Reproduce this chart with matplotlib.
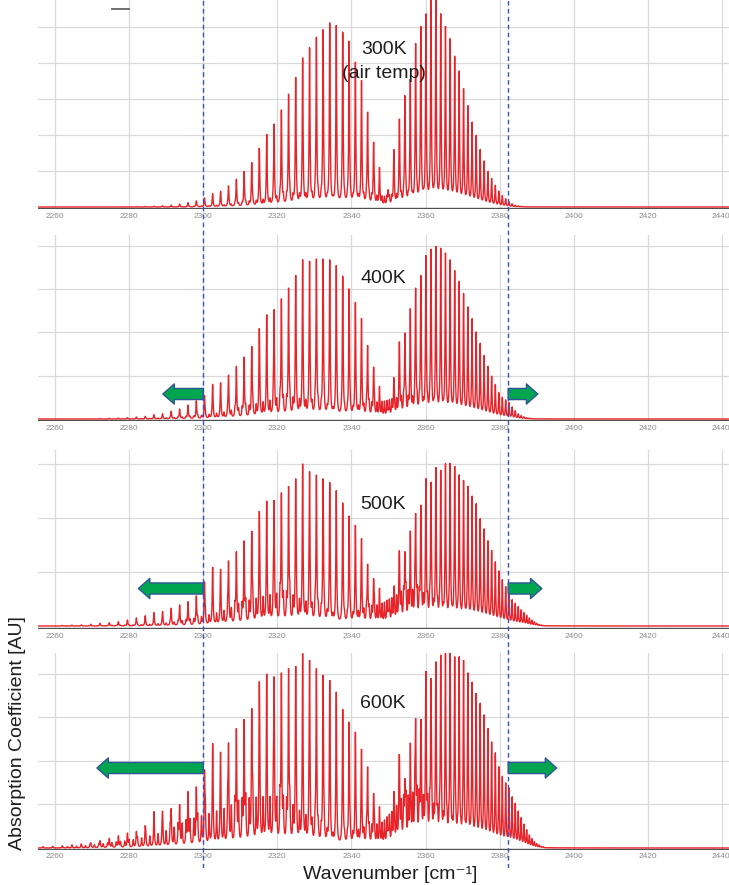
import numpy as np
import matplotlib
matplotlib.use("Agg")
import matplotlib.pyplot as plt
from matplotlib.lines import Line2D
from matplotlib.patches import ArrowStyle
from matplotlib.transforms import ScaledTranslation

plt.rcParams['font.family'] = ['Liberation Sans', 'DejaVu Sans']
plt.rcParams['path.simplify'] = False

# ---------------------------------------------------------------- data
# CO2 nu3 fundamental: P(2..88) and R(0..80) line positions [cm^-1]
main_p_pos = [2347.57, 2345.98, 2344.36, 2342.72, 2341.06, 2339.37, 2337.65, 2335.91,
              2334.14, 2332.35, 2330.54, 2328.70, 2326.83, 2324.95, 2323.03, 2321.09,
              2319.13, 2317.14, 2315.13, 2313.09, 2311.03, 2308.94, 2306.82, 2304.69,
              2302.53, 2300.34, 2298.13, 2295.89, 2293.63, 2291.34, 2289.03, 2286.70,
              2284.33, 2281.95, 2279.54, 2277.10, 2274.64, 2272.16, 2269.65, 2267.12,
              2264.56, 2261.97, 2259.36, 2256.73]
main_r_pos = [2349.91, 2351.44, 2352.95, 2354.43, 2355.88, 2357.32, 2358.72, 2360.10,
              2361.46, 2362.79, 2364.10, 2365.38, 2366.64, 2367.87, 2369.07, 2370.26,
              2371.42, 2372.55, 2373.66, 2374.74, 2375.80, 2376.83, 2377.84, 2378.83,
              2379.79, 2380.72, 2381.63, 2382.51, 2383.37, 2384.21, 2385.02, 2385.81,
              2386.57, 2387.30, 2388.01, 2388.70, 2389.36, 2390.00, 2390.61, 2391.20,
              2391.76]
# first hot band (01^1 1 <- 01^1 0): P(1..73) and R(1..77) line positions [cm^-1]
hot_p_pos = [2335.82, 2335.03, 2334.24, 2333.44, 2332.64, 2331.83, 2331.01, 2330.19,
             2329.36, 2328.52, 2327.68, 2326.83, 2325.98, 2325.11, 2324.25, 2323.37,
             2322.50, 2321.61, 2320.72, 2319.82, 2318.92, 2318.01, 2317.09, 2316.17,
             2315.24, 2314.30, 2313.36, 2312.41, 2311.46, 2310.50, 2309.53, 2308.56,
             2307.58, 2306.60, 2305.61, 2304.61, 2303.61, 2302.60, 2301.58, 2300.56,
             2299.53, 2298.50, 2297.46, 2296.41, 2295.36, 2294.30, 2293.23, 2292.16,
             2291.08, 2290.00, 2288.91, 2287.81, 2286.71, 2285.60, 2284.49, 2283.37,
             2282.24, 2281.11, 2279.97, 2278.82, 2277.67, 2276.51, 2275.35, 2274.17,
             2273.00, 2271.81, 2270.62, 2269.43, 2268.23, 2267.02, 2265.81, 2264.59,
             2263.36]
hot_r_pos = [2338.14, 2338.90, 2339.66, 2340.41, 2341.15, 2341.89, 2342.62, 2343.34,
             2344.06, 2344.77, 2345.48, 2346.18, 2346.87, 2347.56, 2348.24, 2348.91,
             2349.58, 2350.24, 2350.90, 2351.55, 2352.19, 2352.83, 2353.46, 2354.09,
             2354.71, 2355.32, 2355.93, 2356.53, 2357.12, 2357.71, 2358.29, 2358.87,
             2359.43, 2360.00, 2360.55, 2361.11, 2361.65, 2362.19, 2362.72, 2363.25,
             2363.77, 2364.28, 2364.79, 2365.29, 2365.78, 2366.27, 2366.75, 2367.23,
             2367.70, 2368.16, 2368.62, 2369.07, 2369.52, 2369.96, 2370.39, 2370.82,
             2371.24, 2371.65, 2372.06, 2372.46, 2372.86, 2373.25, 2373.63, 2374.01,
             2374.38, 2374.74, 2375.10, 2375.45, 2375.80, 2376.14, 2376.47, 2376.80,
             2377.12, 2377.44, 2377.75, 2378.05, 2378.35]

temperatures = ['300K\n(air temp)', '400K', '500K', '600K']

# observed peak heights of the fundamental lines [AU] per temperature
main_p_300 = [1.11, 1.81, 2.64, 3.52, 4.03, 4.61, 4.86, 5.05, 5.12, 4.93, 4.72, 4.43, 4.14,
              3.61, 3.14, 2.70, 2.31, 2.02, 1.64, 1.24, 0.99, 0.77, 0.59, 0.44, 0.37, 0.25,
              0.17, 0.12, 0.08, 0.05, 0.035, 0.02, 0.015, 0.01,
              0, 0, 0, 0, 0, 0, 0, 0, 0, 0]
main_r_300 = [0.48, 1.60, 2.45, 3.10, 3.55, 4.55, 5.02, 5.37, 5.85, 5.90, 5.37, 5.02, 4.68,
              4.19, 3.78, 3.29, 2.82, 2.36, 1.99, 1.60, 1.28, 0.99, 0.79, 0.60, 0.44, 0.32,
              0.23, 0.15, 0.09, 0.05, 0.03, 0.02, 0.01,
              0, 0, 0, 0, 0, 0, 0, 0]
# hot band line strengths [AU]
hot_p_300 = [0.06, 0.08, 0.10, 0.12, 0.13, 0.15, 0.16, 0.17, 0.18, 0.19,
             0.20, 0.21, 0.21, 0.21, 0.21, 0.21, 0.20, 0.20, 0.19, 0.18,
             0.17, 0.16, 0.15, 0.14, 0.13, 0.12, 0.11, 0.10, 0.09, 0.08,
             0.07, 0.06, 0.05, 0.045, 0.04, 0.035, 0.03, 0.025, 0.02, 0.02,
             0.02, 0.015, 0.01, 0.005, 0, 0, 0, 0, 0, 0,
             0, 0, 0, 0, 0, 0, 0, 0, 0, 0,
             0, 0, 0, 0, 0, 0, 0, 0, 0, 0,
             0, 0, 0]
hot_r_300 = [0.06, 0.08, 0.10, 0.12, 0.13, 0.15, 0.16, 0.18, 0.19, 0.20,
             0.21, 0.22, 0.22, 0.23, 0.23, 0.23, 0.23, 0.23, 0.22, 0.22,
             0.21, 0.20, 0.19, 0.18, 0.17, 0.16, 0.15, 0.14, 0.13, 0.12,
             0.11, 0.10, 0.09, 0.08, 0.07, 0.06, 0.05, 0.045, 0.04, 0.035,
             0.03, 0.025, 0.02, 0.02, 0.02, 0.015, 0.01, 0.005, 0, 0,
             0, 0, 0, 0, 0, 0, 0, 0, 0, 0,
             0, 0, 0, 0, 0, 0, 0, 0, 0, 0,
             0, 0, 0, 0, 0, 0, 0]

main_p_400 = [0.75, 1.20, 1.70, 2.33, 2.70, 3.01, 3.30, 3.55, 3.68, 3.70, 3.70, 3.65, 3.68,
              3.32, 3.03, 2.78, 2.53, 2.41, 2.09, 1.68, 1.43, 1.22, 1.02, 0.84, 0.80, 0.55,
              0.42, 0.32, 0.23, 0.18, 0.12, 0.10, 0.06, 0.045, 0.03, 0.02, 0.015, 0.01,
              0, 0, 0, 0, 0, 0]
main_r_400 = [0.22, 0.94, 1.78, 1.99, 2.55, 3.03, 3.32, 3.78, 3.93, 3.99, 3.95, 3.84, 3.68,
              3.43, 3.18, 2.90, 2.59, 2.32, 2.01, 1.75, 1.47, 1.22, 0.99, 0.80, 0.61, 0.50,
              0.44, 0.38, 0.28, 0.19, 0.12, 0.08, 0.05, 0.03, 0.02, 0.01,
              0, 0, 0, 0, 0]
hot_p_400 = [0.08, 0.10, 0.12, 0.14, 0.16, 0.18, 0.20, 0.22, 0.24, 0.26,
             0.28, 0.30, 0.31, 0.32, 0.33, 0.34, 0.34, 0.34, 0.34, 0.34,
             0.33, 0.32, 0.31, 0.30, 0.28, 0.26, 0.25, 0.23, 0.21, 0.20,
             0.18, 0.16, 0.15, 0.13, 0.12, 0.11, 0.10, 0.09, 0.08, 0.07,
             0.06, 0.055, 0.05, 0.045, 0.04, 0.035, 0.03, 0.025, 0.02, 0.02,
             0.02, 0.015, 0.01, 0.01, 0.01, 0.005, 0, 0, 0, 0,
             0, 0, 0, 0, 0, 0, 0, 0, 0, 0,
             0, 0, 0]
hot_r_400 = [0.08, 0.09, 0.11, 0.13, 0.15, 0.17, 0.19, 0.21, 0.23, 0.25,
             0.27, 0.29, 0.31, 0.33, 0.34, 0.35, 0.36, 0.37, 0.37, 0.37,
             0.37, 0.37, 0.36, 0.35, 0.34, 0.33, 0.31, 0.30, 0.28, 0.26,
             0.24, 0.22, 0.20, 0.18, 0.17, 0.15, 0.14, 0.12, 0.11, 0.10,
             0.09, 0.08, 0.07, 0.06, 0.05, 0.045, 0.04, 0.035, 0.03, 0.025,
             0.02, 0.02, 0.02, 0.015, 0.01, 0.005, 0, 0, 0, 0,
             0, 0, 0, 0, 0, 0, 0, 0, 0, 0,
             0, 0, 0, 0, 0, 0, 0]

main_p_500 = [0.70, 0.88, 1.15, 1.62, 1.87, 2.04, 2.28, 2.51, 2.66, 2.73, 2.80, 2.86, 3.00,
              2.73, 2.59, 2.47, 2.33, 2.31, 2.12, 1.76, 1.58, 1.38, 1.21, 1.05, 1.09, 0.82,
              0.56, 0.45, 0.39, 0.33, 0.27, 0.25, 0.19, 0.15, 0.11, 0.08, 0.06, 0.05, 0.03,
              0.02, 0.015, 0.01, 0, 0]
main_r_500 = [0.30, 0.67, 1.38, 1.38, 1.75, 2.09, 2.24, 2.73, 2.67, 2.94, 2.89, 3.01, 3.02,
              2.96, 2.80, 2.70, 2.59, 2.41, 2.27, 1.99, 1.80, 1.58, 1.40, 1.19, 1.02, 0.86,
              0.73, 0.62, 0.49, 0.42, 0.36, 0.30, 0.25, 0.20, 0.15, 0.11, 0.08, 0.05, 0.03,
              0.02, 0.01]
hot_p_500 = [0.10, 0.12, 0.14, 0.16, 0.18, 0.20, 0.22, 0.25, 0.27, 0.30,
             0.32, 0.35, 0.37, 0.40, 0.42, 0.44, 0.45, 0.46, 0.47, 0.47,
             0.47, 0.47, 0.46, 0.45, 0.43, 0.42, 0.40, 0.38, 0.36, 0.34,
             0.32, 0.30, 0.28, 0.26, 0.24, 0.22, 0.20, 0.18, 0.17, 0.15,
             0.14, 0.12, 0.11, 0.10, 0.09, 0.08, 0.07, 0.06, 0.05, 0.045,
             0.04, 0.035, 0.03, 0.025, 0.02, 0.02, 0.02, 0.015, 0.01, 0.01,
             0.01, 0.01, 0.01, 0.005, 0, 0, 0, 0, 0, 0,
             0, 0, 0]
hot_r_500 = [0.10, 0.11, 0.13, 0.14, 0.16, 0.18, 0.20, 0.22, 0.24, 0.26,
             0.28, 0.30, 0.32, 0.34, 0.36, 0.38, 0.40, 0.42, 0.44, 0.45,
             0.47, 0.48, 0.49, 0.50, 0.50, 0.50, 0.50, 0.49, 0.48, 0.46,
             0.44, 0.41, 0.38, 0.35, 0.32, 0.29, 0.26, 0.24, 0.22, 0.20,
             0.18, 0.16, 0.14, 0.12, 0.11, 0.10, 0.09, 0.08, 0.07, 0.06,
             0.055, 0.05, 0.045, 0.04, 0.035, 0.03, 0.025, 0.02, 0.02, 0.015,
             0.015, 0.01, 0.01, 0.01, 0.008, 0.006, 0.005, 0.004, 0.003, 0.002,
             0, 0, 0, 0, 0, 0, 0]

main_p_600 = [0.95, 1.26, 1.87, 2.27, 2.67, 2.90, 3.19, 3.59, 3.86, 3.98, 4.13, 4.32, 4.47,
              4.18, 4.13, 4.03, 3.94, 3.98, 3.80, 3.21, 2.96, 2.75, 2.42, 2.17, 2.38, 1.80,
              1.41, 1.30, 1.00, 0.91, 0.84, 0.84, 0.51, 0.38, 0.34, 0.28, 0.22, 0.17, 0.12,
              0.09, 0.07, 0.05, 0.04, 0.03]
main_r_600 = [0.45, 1.20, 2.12, 1.60, 2.37, 2.98, 2.95, 4.05, 3.90, 4.28, 4.44, 4.48, 4.48,
              4.40, 4.40, 4.32, 4.03, 3.82, 3.56, 3.33, 3.06, 2.75, 2.44, 2.19, 1.87, 1.65,
              1.50, 1.38, 1.18, 1.03, 0.85, 0.70, 0.55, 0.42, 0.30, 0.22, 0.15, 0.10, 0.07,
              0.04, 0.03]
hot_p_600 = [0.15, 0.17, 0.20, 0.24, 0.28, 0.31, 0.35, 0.40, 0.45, 0.50,
             0.55, 0.60, 0.65, 0.70, 0.75, 0.80, 0.85, 0.88, 0.92, 0.95,
             0.98, 0.99, 1.00, 1.00, 1.00, 0.99, 0.98, 0.96, 0.95, 0.92,
             0.90, 0.87, 0.85, 0.82, 0.80, 0.77, 0.75, 0.72, 0.70, 0.67,
             0.65, 0.62, 0.60, 0.57, 0.55, 0.51, 0.47, 0.43, 0.40, 0.36,
             0.33, 0.30, 0.27, 0.25, 0.23, 0.21, 0.19, 0.17, 0.16, 0.14,
             0.13, 0.12, 0.11, 0.10, 0.09, 0.08, 0.07, 0.06, 0.05, 0.045,
             0.04, 0.035, 0.03]
hot_r_600 = [0.15, 0.17, 0.20, 0.22, 0.25, 0.27, 0.30, 0.32, 0.35, 0.37,
             0.40, 0.42, 0.45, 0.47, 0.50, 0.55, 0.60, 0.65, 0.70, 0.75,
             0.80, 0.85, 0.90, 0.92, 0.95, 0.97, 1.00, 1.00, 1.00, 0.99,
             0.94, 0.90, 0.86, 0.81, 0.76, 0.70, 0.65, 0.60, 0.55, 0.50,
             0.46, 0.42, 0.38, 0.35, 0.32, 0.29, 0.26, 0.24, 0.22, 0.20,
             0.18, 0.16, 0.15, 0.14, 0.13, 0.12, 0.11, 0.10, 0.09, 0.08,
             0.07, 0.065, 0.06, 0.055, 0.05, 0.045, 0.04, 0.035, 0.03, 0.028,
             0.025, 0.02, 0.018, 0.015, 0.012, 0.01, 0.01]

x_ticks = [2260, 2280, 2300, 2320, 2340, 2360, 2380, 2400, 2420, 2440]
band_edges = [2300.0, 2382.3]
# how far the band wings reach beyond the 300K edges, per temperature
wing_left = [None, 2289.1, 2282.5, 2271.3]
wing_right = [None, 2390.3, 2391.4, 2395.4]

panels = [
    (main_p_300, main_r_300, hot_p_300, hot_r_300),
    (main_p_400, main_r_400, hot_p_400, hot_r_400),
    (main_p_500, main_r_500, hot_p_500, hot_r_500),
    (main_p_600, main_r_600, hot_p_600, hot_r_600),
]

# ---------------------------------------------------------------- layout
W, H = 729, 885
fig = plt.figure(figsize=(W / 100, H / 100), dpi=100)
fig.patch.set_facecolor('white')

X_LEFT, X_RIGHT = 38, 729
XLIM = (2255.4, 2441.9)
# (image y of baseline, px per grid step, image y of panel top)
geometry = [(207, 36.0, 0), (419, 43.3, 235), (626, 54.0, 450), (848, 43.5, 653)]
tick_pad = [2.8, 2.8, 2.8, 1.8]
label_pos = [(384, 54), (383, 283), (383, 509), (383, 708)]
arrow_y_px = [None, 394, 588.5, 768]

RED = '#e8232a'
GRID = '#d9d9d9'
GAMMA = 0.13  # Lorentzian half width [cm^-1]


def px_axes(left, top, right, bottom):
    return fig.add_axes([left / W, 1 - bottom / H, (right - left) / W, (bottom - top) / H])


def lorentz_sum(x, centers, heights):
    x = np.asarray(x, float)
    c = np.asarray(centers, float)[:, None]
    h = np.asarray(heights, float)[:, None]
    return (h * GAMMA ** 2 / ((x[None, :] - c) ** 2 + GAMMA ** 2)).sum(axis=0)


def fundamental_strengths(peaks, hot_bg):
    """Line strengths whose summed profile peaks at the observed heights."""
    pos = np.concatenate([main_p_pos, main_r_pos])
    obs = np.asarray(peaks, float)
    s = obs.copy()
    for _ in range(10):
        others = lorentz_sum(pos, pos, s) - s
        s = np.maximum(obs - hot_bg(pos) - others, 0.35 * obs)
    return pos, s


all_centers = np.concatenate([main_p_pos, main_r_pos, hot_p_pos, hot_r_pos])
grid_x = np.union1d(np.arange(XLIM[0], XLIM[1], 0.01), all_centers)

arrow_style = ArrowStyle('simple', head_length=0.82, head_width=1.45, tail_width=0.8)

for i, (mp, mr, hp, hr) in enumerate(panels):
    base, step, top = geometry[i]
    y_bot = -0.05
    ax = px_axes(X_LEFT, top, X_RIGHT, base - y_bot * step)
    ytop = (base - top) / step
    ax.set_xlim(*XLIM)
    ax.set_ylim(y_bot, ytop)

    def hot_bg(x, hp=hp, hr=hr):
        return lorentz_sum(x, hot_p_pos, hp) + lorentz_sum(x, hot_r_pos, hr)

    pos, strength = fundamental_strengths(list(mp) + list(mr), hot_bg)
    y = lorentz_sum(grid_x, pos, strength) + hot_bg(grid_x)

    for xt in x_ticks:
        ax.axvline(xt, color=GRID, lw=0.9, zorder=0)
    for k in range(1, int(np.floor(ytop)) + 1):
        ax.axhline(k, color=GRID, lw=0.9, zorder=0)
    ax.axhline(-0.03, color='#505050', lw=1.0, zorder=1)
    ax.plot(grid_x, y, color=RED, lw=1.0, zorder=2, solid_joinstyle='miter')

    for s in ax.spines.values():
        s.set_visible(False)
    ax.set_yticks([])
    ax.set_xticks(x_ticks)
    ax.set_xticklabels([str(t) for t in x_ticks])
    ax.tick_params(axis='x', length=0, pad=tick_pad[i], labelsize=6, labelcolor='#8c8c8c')
    last = ax.get_xticklabels()[-1]
    last.set_horizontalalignment('right')
    last.set_transform(last.get_transform() + ScaledTranslation(0.08, 0, fig.dpi_scale_trans))
    ax.set_facecolor('none')

    if wing_left[i] is not None:
        ay = (base - arrow_y_px[i]) / step
        for start, tip in ((band_edges[0], wing_left[i]), (band_edges[1], wing_right[i])):
            ax.annotate('', xy=(tip, ay), xytext=(start, ay), xycoords='data',
                        annotation_clip=False,
                        arrowprops=dict(arrowstyle=arrow_style, mutation_scale=10,
                                        fc='#00a54f', ec='#2f5597', lw=1.0,
                                        shrinkA=0, shrinkB=0),
                        zorder=5)

    lx, ly = label_pos[i]
    txt = temperatures[i].split('\n')
    fig.text(lx / W, 1 - ly / H, txt[0], ha='center', va='baseline',
             fontsize=14, color='#1e1e1e')
    if len(txt) > 1:
        fig.text(lx / W, 1 - (ly + 23.5) / H, txt[1], ha='center', va='baseline',
                 fontsize=14, color='#1e1e1e')

# band-edge markers running through all panels
ov = px_axes(X_LEFT, 0, X_RIGHT, 868)
ov.set_xlim(*XLIM)
ov.set_ylim(0, 1)
ov.axis('off')
for xe in band_edges:
    ov.axvline(xe, color='#3a50c4', lw=1.0, linestyle=(0, (3.3, 2.4)))

fig.add_artist(Line2D([112 / W, 129 / W], [1 - 9 / H, 1 - 9 / H],
                      transform=fig.transFigure, color='#707070', lw=1.4))

fig.text(390 / W, 1 - 879 / H, 'Wavenumber [cm\u207b\u00b9]',
         ha='center', va='baseline', fontsize=14, color='#1e1e1e')
fig.text(18 / W, 1 - 733 / H, 'Absorption Coefficient [AU]', rotation=90,
         ha='center', va='center', fontsize=14, color='#1e1e1e')

fig.savefig('out.png', dpi=100)
